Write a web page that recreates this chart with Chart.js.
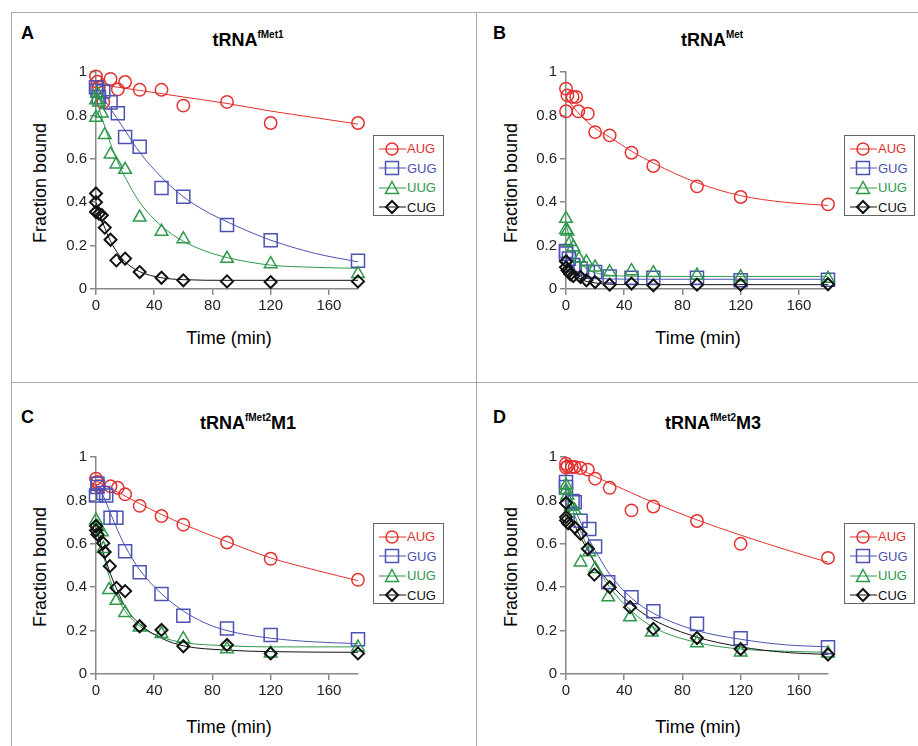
<!DOCTYPE html>
<html>
<head>
<meta charset="utf-8">
<script src="https://cdn.jsdelivr.net/npm/chart.js@4"></script>
<style>
  body { margin: 0; background: #fff; font-family: Arial, "Liberation Sans", sans-serif; }
  #wrap { position: relative; width: 918px; height: 746px; overflow: hidden; }
  .hl { position: absolute; height: 0; border-top: 1.5px solid #aaa; }
  .vl { position: absolute; width: 0; border-left: 1.5px solid #aaa; }
  .plot { position: absolute; }
  .letter { position: absolute; font-weight: bold; font-size: 18px; transform: translateY(-50%); }
  .title { position: absolute; font-weight: bold; font-size: 18px; transform: translate(-50%, -50%); white-space: nowrap; }
  .title sup { font-size: 10px; vertical-align: 8px; }
  .ytitle { position: absolute; font-size: 18px; transform: translate(-50%, -50%) rotate(-90deg); white-space: nowrap; }
  .xtitle { position: absolute; font-size: 18px; transform: translate(-50%, -50%); white-space: nowrap; }
  .legend { position: absolute; border: 1.5px solid #666; background: #fff; width: 71px; height: 81px; box-sizing: border-box; padding-top: 3px; }
  .legend div { height: 19.5px; display: flex; align-items: center; font-size: 13px; }
  .legend svg { margin-left: 5px; margin-right: 1px; }
</style>
</head>
<body>
<div id="wrap">
  <div class="hl" style="left:11px; top:12px; width:907px;"></div>
  <div class="vl" style="left:11px; top:12px; height:734px;"></div>
  <div class="vl" style="left:476px; top:12px; height:734px;"></div>
  <div class="hl" style="left:11px; top:382px; width:907px;"></div>
</div>
<script>
// time axis and tick labels
const xTicks = [0, 40, 80, 120, 160];
const yTicks = [0, 0.2, 0.4, 0.6, 0.8, 1];
const codons = ["AUG", "GUG", "UUG", "CUG"];
const colors = ["#e3312f", "#4b52b3", "#2e984b", "#111111"];

// Panel A: tRNA fMet1
const A_AUG_t = [0, 1, 2, 5, 10, 15, 20, 30, 45, 60, 90, 120, 180];
const A_AUG_y = [0.98, 0.955, 0.93, 0.86, 0.968, 0.92, 0.954, 0.918, 0.918, 0.845, 0.862, 0.765, 0.765];
const A_AUG_fitT = [0, 30, 60, 90, 120, 150, 180];
const A_AUG_fitY = [0.945, 0.915, 0.885, 0.855, 0.82, 0.79, 0.76];
const A_GUG_t = [0, 1, 2, 5, 10, 15, 20, 30, 45, 60, 90, 120, 180];
const A_GUG_y = [0.93, 0.915, 0.885, 0.91, 0.86, 0.81, 0.70, 0.655, 0.465, 0.425, 0.295, 0.225, 0.13];
const A_GUG_fitT = [0, 5, 10, 15, 20, 30, 45, 60, 75, 90, 105, 120, 150, 180];
const A_GUG_fitY = [0.93, 0.88, 0.83, 0.78, 0.73, 0.63, 0.515, 0.425, 0.36, 0.31, 0.265, 0.225, 0.165, 0.125];
const A_UUG_t = [0, 0, 1, 2, 4, 6, 10, 14, 20, 30, 45, 60, 90, 120, 180];
const A_UUG_y = [0.79, 0.87, 0.90, 0.86, 0.81, 0.71, 0.62, 0.575, 0.55, 0.33, 0.265, 0.23, 0.14, 0.115, 0.07];
const A_UUG_fitT = [0, 5, 10, 15, 20, 30, 45, 60, 75, 90, 120, 150, 180];
const A_UUG_fitY = [0.88, 0.77, 0.67, 0.585, 0.515, 0.40, 0.29, 0.22, 0.175, 0.145, 0.11, 0.10, 0.095];
const A_CUG_t = [0, 0, 0, 2, 4, 6, 10, 14, 20, 30, 45, 60, 90, 120, 180];
const A_CUG_y = [0.44, 0.40, 0.355, 0.347, 0.34, 0.283, 0.227, 0.132, 0.14, 0.078, 0.052, 0.04, 0.035, 0.032, 0.035];
const A_CUG_fitT = [0, 5, 10, 15, 20, 30, 45, 60, 90, 120, 180];
const A_CUG_fitY = [0.40, 0.30, 0.22, 0.165, 0.125, 0.08, 0.052, 0.043, 0.04, 0.04, 0.04];

// Panel B: tRNA Met
const B_AUG_t = [0, 0, 1, 4.5, 7, 8.5, 15, 20, 30, 45, 60, 90, 120, 180];
const B_AUG_y = [0.923, 0.819, 0.892, 0.885, 0.885, 0.819, 0.808, 0.723, 0.708, 0.628, 0.567, 0.473, 0.424, 0.39];
const B_AUG_fitT = [0, 10, 20, 30, 45, 60, 90, 120, 150, 180];
const B_AUG_fitY = [0.88, 0.80, 0.74, 0.70, 0.635, 0.58, 0.49, 0.43, 0.40, 0.385];
const B_GUG_t = [0, 0, 2, 5, 10, 15, 20, 30, 45, 60, 90, 120, 180];
const B_GUG_y = [0.175, 0.163, 0.14, 0.11, 0.095, 0.08, 0.078, 0.058, 0.052, 0.052, 0.052, 0.04, 0.043];
const B_GUG_fitT = [0, 5, 10, 20, 30, 60, 180];
const B_GUG_fitY = [0.17, 0.10, 0.07, 0.052, 0.046, 0.045, 0.045];
const B_UUG_t = [0, 0, 1, 3, 5, 9, 14, 20, 30, 45, 60, 90, 120, 180];
const B_UUG_y = [0.324, 0.273, 0.266, 0.217, 0.193, 0.14, 0.124, 0.10, 0.078, 0.083, 0.074, 0.063, 0.055, 0.048];
const B_UUG_fitT = [0, 5, 10, 15, 20, 30, 45, 60, 180];
const B_UUG_fitY = [0.30, 0.18, 0.12, 0.09, 0.075, 0.063, 0.059, 0.058, 0.058];
const B_CUG_t = [0, 0, 1, 2, 3, 5, 10, 14, 20, 30, 45, 60, 90, 120, 180];
const B_CUG_y = [0.127, 0.10, 0.086, 0.08, 0.068, 0.06, 0.055, 0.04, 0.032, 0.02, 0.025, 0.017, 0.02, 0.02, 0.022];
const B_CUG_fitT = [0, 5, 10, 20, 30, 45, 180];
const B_CUG_fitY = [0.12, 0.07, 0.045, 0.028, 0.022, 0.02, 0.02];

// Panel C: tRNA fMet2 M1
const C_AUG_t = [0, 1, 2, 10, 15, 20, 30, 45, 60, 90, 120, 180];
const C_AUG_y = [0.90, 0.885, 0.865, 0.865, 0.858, 0.828, 0.775, 0.728, 0.688, 0.606, 0.531, 0.434];
const C_AUG_fitT = [0, 10, 20, 30, 45, 60, 90, 120, 150, 180];
const C_AUG_fitY = [0.89, 0.855, 0.82, 0.785, 0.735, 0.69, 0.61, 0.535, 0.48, 0.43];
const C_GUG_t = [0, 1, 1, 5, 7, 10, 14, 20, 30, 45, 60, 90, 120, 180];
const C_GUG_y = [0.823, 0.877, 0.862, 0.834, 0.823, 0.72, 0.72, 0.566, 0.469, 0.369, 0.268, 0.21, 0.18, 0.16];
const C_GUG_fitT = [0, 5, 10, 15, 20, 30, 45, 60, 75, 90, 120, 150, 180];
const C_GUG_fitY = [0.87, 0.82, 0.74, 0.66, 0.59, 0.48, 0.37, 0.29, 0.235, 0.20, 0.165, 0.148, 0.14];
const C_UUG_t = [0, 1, 4, 5, 9, 14, 20, 30, 45, 60, 90, 120, 180];
const C_UUG_y = [0.708, 0.677, 0.654, 0.577, 0.388, 0.338, 0.282, 0.215, 0.185, 0.162, 0.115, 0.095, 0.123];
const C_UUG_fitT = [0, 5, 10, 15, 20, 30, 45, 60, 90, 120, 180];
const C_UUG_fitY = [0.70, 0.55, 0.43, 0.35, 0.29, 0.22, 0.17, 0.145, 0.13, 0.125, 0.125];
const C_CUG_t = [0, 0, 1, 5, 6, 9.5, 14, 20, 30, 45, 60, 90, 120, 180];
const C_CUG_y = [0.682, 0.662, 0.643, 0.603, 0.562, 0.497, 0.397, 0.382, 0.22, 0.203, 0.128, 0.134, 0.095, 0.095];
const C_CUG_fitT = [0, 5, 10, 15, 20, 30, 45, 60, 90, 120, 180];
const C_CUG_fitY = [0.67, 0.56, 0.46, 0.38, 0.31, 0.23, 0.165, 0.13, 0.11, 0.103, 0.10];

// Panel D: tRNA fMet2 M3
const D_AUG_t = [0, 0, 1, 4, 6, 10, 15, 20, 30, 45, 60, 90, 120, 180];
const D_AUG_y = [0.969, 0.951, 0.957, 0.954, 0.954, 0.949, 0.942, 0.90, 0.858, 0.754, 0.772, 0.705, 0.60, 0.535];
const D_AUG_fitT = [0, 10, 20, 30, 45, 60, 90, 120, 150, 180];
const D_AUG_fitY = [0.99, 0.945, 0.91, 0.88, 0.835, 0.79, 0.71, 0.64, 0.575, 0.515];
const D_GUG_t = [0, 0, 4.5, 6, 10, 16, 20, 29, 45, 60, 90, 120, 180];
const D_GUG_y = [0.885, 0.862, 0.797, 0.792, 0.706, 0.668, 0.588, 0.423, 0.354, 0.289, 0.231, 0.165, 0.123];
const D_GUG_fitT = [0, 5, 10, 15, 20, 30, 45, 60, 90, 120, 150, 180];
const D_GUG_fitY = [0.87, 0.78, 0.70, 0.63, 0.57, 0.46, 0.35, 0.28, 0.20, 0.16, 0.135, 0.125];
const D_UUG_t = [0, 0, 1, 3.5, 6, 10, 16, 20, 29, 44, 59, 90, 120, 180];
const D_UUG_y = [0.869, 0.846, 0.823, 0.772, 0.754, 0.515, 0.562, 0.485, 0.354, 0.262, 0.192, 0.142, 0.10, 0.095];
const D_UUG_fitT = [0, 5, 10, 15, 20, 30, 45, 60, 90, 120, 150, 180];
const D_UUG_fitY = [0.85, 0.75, 0.66, 0.58, 0.51, 0.40, 0.29, 0.215, 0.145, 0.115, 0.105, 0.10];
const D_CUG_t = [0, 0, 0, 1.5, 6, 10, 15, 19.5, 30, 44, 60, 90, 120, 180];
const D_CUG_y = [0.788, 0.723, 0.708, 0.694, 0.675, 0.646, 0.577, 0.458, 0.40, 0.308, 0.208, 0.166, 0.115, 0.09];
const D_CUG_fitT = [0, 5, 10, 15, 20, 30, 45, 60, 90, 120, 150, 180];
const D_CUG_fitY = [0.78, 0.70, 0.63, 0.57, 0.51, 0.42, 0.32, 0.25, 0.17, 0.125, 0.10, 0.09];

const panels = [
  { letter: "A", title: 'tRNA<sup>fMet1</sup>', plotX: 96, plotY: 72, legX: 373, legY: 135,
    titleX: 248, titleY: 40, letterX: 21, letterY: 33, yTitleX: 40, yTitleY: 183, xTitleX: 229, xTitleY: 338,
    series: [[A_AUG_t, A_AUG_y, A_AUG_fitT, A_AUG_fitY], [A_GUG_t, A_GUG_y, A_GUG_fitT, A_GUG_fitY],
             [A_UUG_t, A_UUG_y, A_UUG_fitT, A_UUG_fitY], [A_CUG_t, A_CUG_y, A_CUG_fitT, A_CUG_fitY]] },
  { letter: "B", title: 'tRNA<sup>Met</sup>', plotX: 566, plotY: 72, legX: 844, legY: 135,
    titleX: 712, titleY: 40, letterX: 493, letterY: 33, yTitleX: 511, yTitleY: 183, xTitleX: 698, xTitleY: 338,
    series: [[B_AUG_t, B_AUG_y, B_AUG_fitT, B_AUG_fitY], [B_GUG_t, B_GUG_y, B_GUG_fitT, B_GUG_fitY],
             [B_UUG_t, B_UUG_y, B_UUG_fitT, B_UUG_fitY], [B_CUG_t, B_CUG_y, B_CUG_fitT, B_CUG_fitY]] },
  { letter: "C", title: 'tRNA<sup>fMet2</sup>M1', plotX: 96, plotY: 457, legX: 373, legY: 523,
    titleX: 248, titleY: 423, letterX: 21, letterY: 417, yTitleX: 40, yTitleY: 567, xTitleX: 229, xTitleY: 727,
    series: [[C_AUG_t, C_AUG_y, C_AUG_fitT, C_AUG_fitY], [C_GUG_t, C_GUG_y, C_GUG_fitT, C_GUG_fitY],
             [C_UUG_t, C_UUG_y, C_UUG_fitT, C_UUG_fitY], [C_CUG_t, C_CUG_y, C_CUG_fitT, C_CUG_fitY]] },
  { letter: "D", title: 'tRNA<sup>fMet2</sup>M3', plotX: 566, plotY: 457, legX: 844, legY: 523,
    titleX: 713, titleY: 423, letterX: 493, letterY: 417, yTitleX: 511, yTitleY: 567, xTitleX: 698, xTitleY: 727,
    series: [[D_AUG_t, D_AUG_y, D_AUG_fitT, D_AUG_fitY], [D_GUG_t, D_GUG_y, D_GUG_fitT, D_GUG_fitY],
             [D_UUG_t, D_UUG_y, D_UUG_fitT, D_UUG_fitY], [D_CUG_t, D_CUG_y, D_CUG_fitT, D_CUG_fitY]] },
];

const pointStyles = ["circle", "rect", "triangle", "rectRot"];
const pointRadii = [6.2, 9.2, 7.3, 6];
const pointWidths = [1.5, 1.5, 1.5, 2];

// plot box size (axis range 0..180 by 0..1)
const PW = 262, PH = 217;
const PAD_L = 60, PAD_T = 24, PAD_R = 24, PAD_B = 40;

Chart.defaults.font.family = 'Arial, "Liberation Sans", sans-serif';

const legendIcon = (i) => {
  const c = colors[i];
  let m = "";
  if (i === 0) m = `<circle cx="13" cy="8" r="6" fill="none" stroke="${c}" stroke-width="1.5"/>`;
  if (i === 1) m = `<rect x="6.5" y="1.5" width="13" height="13" fill="none" stroke="${c}" stroke-width="1.5"/>`;
  if (i === 2) m = `<polygon points="13,1.5 19.5,13.5 6.5,13.5" fill="none" stroke="${c}" stroke-width="1.5"/>`;
  if (i === 3) m = `<polygon points="13,2 19,8 13,14 7,8" fill="none" stroke="${c}" stroke-width="2"/>`;
  return `<svg width="27" height="16"><line x1="0" y1="8" x2="27" y2="8" stroke="${c}" stroke-width="1"/>${m}</svg>`;
};

const wrap = document.getElementById("wrap");

panels.forEach((p) => {
  const add = (cls, style, html) => {
    const d = document.createElement("div");
    d.className = cls;
    d.style.cssText = style;
    d.innerHTML = html;
    wrap.appendChild(d);
  };
  add("letter", `left:${p.letterX}px; top:${p.letterY}px;`, p.letter);
  add("title", `left:${p.titleX}px; top:${p.titleY}px;`, p.title);
  add("ytitle", `left:${p.yTitleX}px; top:${p.yTitleY}px;`, "Fraction bound");
  add("xtitle", `left:${p.xTitleX}px; top:${p.xTitleY}px;`, "Time (min)");

  const div = document.createElement("div");
  div.className = "plot";
  div.style.cssText = `left:${p.plotX - PAD_L}px; top:${p.plotY - PAD_T}px; width:${PW + PAD_L + PAD_R}px; height:${PH + PAD_T + PAD_B}px;`;
  const canvas = document.createElement("canvas");
  div.appendChild(canvas);
  wrap.appendChild(div);

  const datasets = [];
  p.series.forEach(([t, y, ft, fy], i) => {
    datasets.push({
      label: codons[i] + " fit",
      data: ft.map((v, k) => ({ x: v, y: fy[k] })),
      showLine: true,
      borderColor: colors[i],
      borderWidth: 1,
      pointRadius: 0,
      cubicInterpolationMode: "monotone",
      clip: false,
      order: 10 - i,
    });
    datasets.push({
      label: codons[i],
      data: t.map((v, k) => ({ x: v, y: y[k] })),
      showLine: false,
      pointStyle: pointStyles[i],
      pointRadius: pointRadii[i],
      borderColor: colors[i],
      backgroundColor: "rgba(0,0,0,0)",
      pointBorderWidth: pointWidths[i],
      clip: false,
      order: 5 - i,
    });
  });

  new Chart(canvas, {
    type: "scatter",
    data: { datasets },
    options: {
      responsive: true,
      maintainAspectRatio: false,
      animation: false,
      events: [],
      layout: { autoPadding: false, padding: { left: 0, top: PAD_T, right: PAD_R, bottom: 0 } },
      plugins: { legend: { display: false }, tooltip: { enabled: false } },
      scales: {
        x: {
          type: "linear", min: 0, max: 180,
          afterBuildTicks: (s) => { s.ticks = xTicks.map((v) => ({ value: v })); },
          afterFit: (s) => { s.height = PAD_B; },
          grid: { drawOnChartArea: false, drawTicks: true, tickLength: 6, color: "#888", lineWidth: 1.5 },
          border: { color: "#888", width: 1.5 },
          ticks: { font: { size: 15 }, color: "#222", padding: 2, maxRotation: 0 },
        },
        y: {
          type: "linear", min: 0, max: 1,
          afterBuildTicks: (s) => { s.ticks = yTicks.map((v) => ({ value: v })); },
          afterFit: (s) => { s.width = PAD_L; },
          grid: { drawOnChartArea: false, drawTicks: true, tickLength: 6, color: "#888", lineWidth: 1.5 },
          border: { color: "#888", width: 1.5 },
          ticks: { font: { size: 15 }, color: "#222", padding: 3, callback: (v) => String(v) },
        },
      },
    },
  });

  add("legend", `left:${p.legX}px; top:${p.legY}px;`,
    codons.map((c, i) => `<div style="color:${colors[i]}">${legendIcon(i)}${c}</div>`).join(""));
});
</script>
</body>
</html>
